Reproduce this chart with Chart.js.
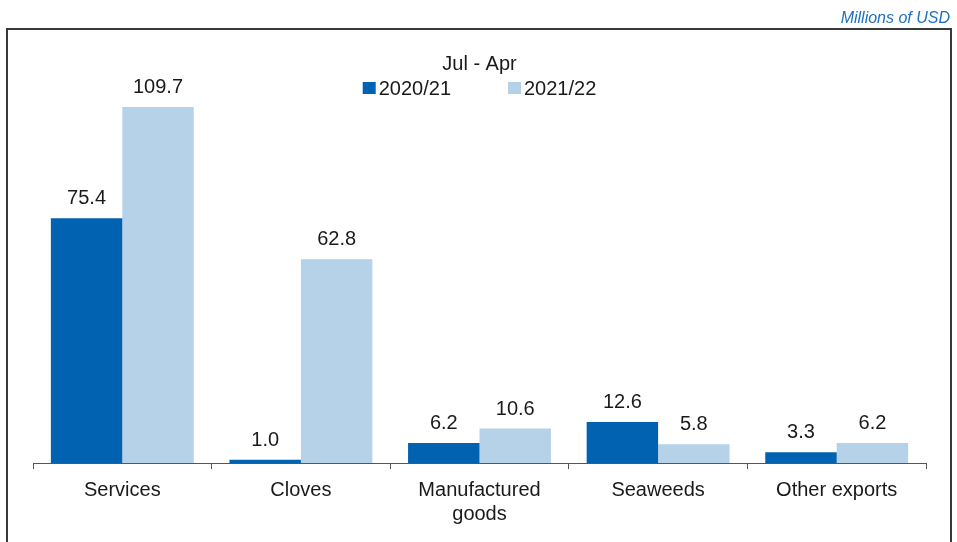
<!DOCTYPE html>
<html>
<head>
<meta charset="utf-8">
<title>Exports, Jul - Apr</title>
<script src="https://cdn.jsdelivr.net/npm/chart.js@4.4.1/dist/chart.umd.min.js"></script>
<style>
  html, body { margin: 0; padding: 0; background: #fff; }
  canvas { display: block; }
</style>
</head>
<body>
<canvas id="exports" width="957" height="542"></canvas>
<script>
const categories = ['Services', 'Cloves', ['Manufactured', 'goods'], 'Seaweeds', 'Other exports'];
const period2020 = [75.4, 1.0, 6.2, 12.6, 3.3];
const period2021 = [109.7, 62.8, 10.6, 5.8, 6.2];
const seriesNames = ['2020/21', '2021/22'];
const legendTitle = 'Jul - Apr';
const unitLabel = 'Millions of USD';

const FONT = '"Liberation Sans", Arial, Helvetica, sans-serif';
const DARK = '#0062b0';
const LIGHT = '#b5d2e9';

// grey box round the plot (open at the bottom) and the unit note above it
const frame = {
    id: 'frame',
    beforeDraw(chart) {
        const ctx = chart.ctx;
        ctx.save();
        ctx.strokeStyle = '#3a3a3a';
        ctx.lineWidth = 2;
        ctx.strokeRect(7, 29, 944, chart.height);
        ctx.font = 'italic 16px ' + FONT;
        ctx.fillStyle = '#1f6fc0';
        ctx.textAlign = 'right';
        ctx.textBaseline = 'alphabetic';
        ctx.fillText(unitLabel, 950, 23);
        ctx.restore();
    }
};

// value above each bar
const barValues = {
    id: 'barValues',
    afterDatasetsDraw(chart) {
        const ctx = chart.ctx;
        ctx.save();
        ctx.font = '20px ' + FONT;
        ctx.fillStyle = '#1a1a1a';
        ctx.textAlign = 'center';
        ctx.textBaseline = 'alphabetic';
        chart.data.datasets.forEach((ds, i) => {
            chart.getDatasetMeta(i).data.forEach((bar, j) => {
                ctx.fillText(ds.data[j].toFixed(1), bar.x, bar.y - 14);
            });
        });
        ctx.restore();
    }
};

// legend with its title, centred over the plot
const legendBlock = {
    id: 'legendBlock',
    afterDraw(chart) {
        const ctx = chart.ctx;
        const area = chart.chartArea;
        const cx = (area.left + area.right) / 2;
        ctx.save();
        ctx.font = '20px ' + FONT;
        ctx.fillStyle = '#1a1a1a';
        ctx.textBaseline = 'alphabetic';
        ctx.textAlign = 'center';
        ctx.fillText(legendTitle, cx, 70);

        const box = 13, gap = 3, spacing = 57;
        const widths = chart.data.datasets.map(ds => box + gap + ctx.measureText(ds.label).width);
        let x = cx - (widths.reduce((a, b) => a + b, 0) + spacing * (widths.length - 1)) / 2;
        ctx.textAlign = 'left';
        chart.data.datasets.forEach((ds, i) => {
            ctx.fillStyle = ds.backgroundColor;
            ctx.fillRect(x, 82, box, 12);
            ctx.fillStyle = '#1a1a1a';
            ctx.fillText(ds.label, x + box + gap, 95);
            x += widths[i] + spacing;
        });
        ctx.restore();
    }
};

new Chart(document.getElementById('exports'), {
    type: 'bar',
    data: {
        labels: categories,
        datasets: [
            { label: seriesNames[0], data: period2020, backgroundColor: DARK },
            { label: seriesNames[1], data: period2021, backgroundColor: LIGHT }
        ]
    },
    options: {
        responsive: false,
        animation: false,
        devicePixelRatio: 1,
        layout: { padding: { left: 33, right: 31, top: 73.5, bottom: 6 } },
        datasets: { bar: { categoryPercentage: 0.8, barPercentage: 1.0 } },
        scales: {
            x: {
                grid: {
                    offset: true,
                    drawOnChartArea: false,
                    drawTicks: true,
                    tickLength: 6,
                    color: '#555'
                },
                border: { color: '#555', width: 1 },
                ticks: {
                    color: '#1a1a1a',
                    padding: 9.5,
                    font: { family: FONT, size: 20 }
                }
            },
            y: {
                display: false,
                min: 0,
                max: 120
            }
        },
        plugins: {
            legend: { display: false },
            tooltip: { enabled: false }
        }
    },
    plugins: [frame, barValues, legendBlock]
});
</script>
</body>
</html>
